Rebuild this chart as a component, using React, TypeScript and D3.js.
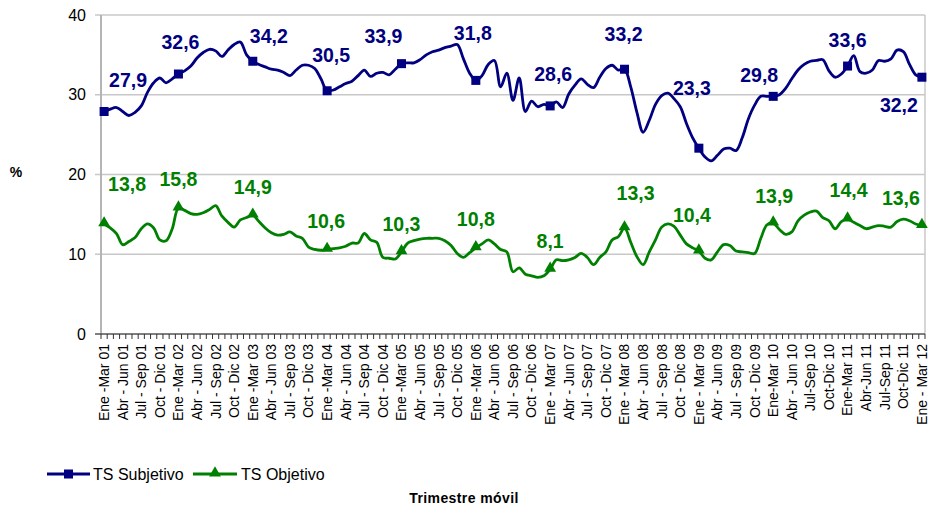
import React from "react";
import * as d3 from "d3";

const quarterLabels = [
  "Ene -Mar 01", "Abr - Jun 01", "Jul - Sep 01", "Oct - Dic 01",
  "Ene -Mar 02", "Abr - Jun 02", "Jul - Sep 02", "Oct - Dic 02",
  "Ene -Mar 03", "Abr - Jun 03", "Jul - Sep 03", "Oct - Dic 03",
  "Ene -Mar 04", "Abr - Jun 04", "Jul - Sep 04", "Oct - Dic 04",
  "Ene -Mar 05", "Abr - Jun 05", "Jul - Sep 05", "Oct - Dic 05",
  "Ene -Mar 06", "Abr - Jun 06", "Jul - Sep 06", "Oct - Dic 06",
  "Ene - Mar 07", "Abr - Jun 07", "Jul - Sep 07", "Oct - Dic 07",
  "Ene - Mar 08", "Abr - Jun 08", "Jul - Sep 08", "Oct - Dic 08",
  "Ene - Mar 09", "Abr - Jun 09", "Jul - Sep 09", "Oct - Dic 09",
  "Ene-Mar 10", "Abr - Jun 10", "Jul-Sep 10", "Oct-Dic 10",
  "Ene-Mar 11", "Abr-Jun 11", "Jul-Sep 11", "Oct-Dic 11",
  "Ene - Mar 12",
];

// Monthly rolling trimesters (Ene-Mar 01 ... Ene-Mar 12), 133 values
const subjetivo = [
  27.9, 28.2, 28.4, 27.9, 27.4, 27.8, 28.6, 30.3, 31.5, 32.1, 31.5, 32.0,
  32.6, 33.0, 33.6, 34.6, 35.3, 35.7, 35.5, 34.8, 35.6, 36.3, 36.6, 35.0,
  34.2, 33.8, 33.5, 33.2, 33.1, 32.8, 32.4, 33.1, 33.7, 33.7, 33.3, 32.0,
  30.5, 30.6, 31.0, 31.4, 31.7, 32.4, 33.1, 32.3, 32.7, 32.8, 32.5, 33.2,
  33.9, 34.0, 34.0, 34.4, 35.0, 35.4, 35.6, 35.9, 36.1, 36.3, 34.5, 32.7,
  31.8, 32.4, 33.8, 34.3, 31.0, 32.7, 29.3, 32.1, 27.9, 29.2, 28.5, 28.8,
  28.6, 29.1, 28.4, 30.1, 31.2, 32.0, 31.3, 30.9, 32.2, 33.3, 33.7, 33.1,
  33.2, 31.0, 27.8, 25.3, 26.8, 28.8, 29.9, 30.2, 29.5, 28.5, 26.4, 24.6,
  23.3, 22.2, 21.7, 22.4, 23.2, 23.3, 23.0, 24.6, 27.0, 28.7, 29.8, 29.8,
  29.8, 30.0, 30.8, 32.0, 33.1, 33.8, 34.2, 34.3, 34.4, 33.0, 32.2, 32.6,
  33.6, 34.9, 32.9, 32.7, 33.1, 34.3, 34.2, 34.5, 35.6, 35.4, 33.8, 32.5,
  32.2,
];

const objetivo = [
  13.8, 13.3, 12.6, 11.2, 11.6, 12.1, 13.2, 13.8, 13.3, 11.8, 11.7, 13.2,
  15.8, 15.5, 15.1, 15.0, 15.2, 15.6, 16.1, 14.8, 14.0, 13.4, 14.3, 14.6,
  14.9, 14.1, 13.3, 12.7, 12.4, 12.5, 12.8, 12.3, 12.0, 10.9, 10.6, 10.5,
  10.6, 10.7, 10.8, 11.0, 11.4, 11.4, 12.6, 11.8, 11.5, 9.6, 9.5, 9.4,
  10.3, 11.4, 11.7, 11.9, 12.0, 12.0, 12.0, 11.7, 11.1, 10.1, 9.6, 10.2,
  10.8, 11.3, 11.8, 11.3, 10.6, 10.3, 7.8, 8.3, 7.5, 7.3, 7.1, 7.3,
  8.1, 9.3, 9.2, 9.3, 9.6, 10.1, 9.6, 8.7, 9.6, 10.3, 11.8, 12.2,
  13.3, 11.5, 9.7, 8.7, 10.3, 11.8, 13.4, 13.8, 13.5, 12.4, 11.3, 10.8,
  10.4, 9.5, 9.3, 10.3, 11.2, 11.1, 10.4, 10.3, 10.2, 10.1, 12.0, 13.7,
  13.9, 13.1, 12.5, 12.8, 14.2, 14.9, 15.3, 15.4, 14.6, 14.2, 13.2, 14.1,
  14.4, 14.0, 13.6, 13.2, 13.4, 13.6, 13.5, 13.4, 14.1, 14.4, 14.2, 13.8,
  13.6,
];

const markerIdx = [0, 12, 24, 36, 48, 60, 72, 84, 96, 108, 120, 132];
const subjLabels = ["27,9", "32,6", "34,2", "30,5", "33,9", "31,8", "28,6", "33,2", "23,3", "29,8", "33,6", "32,2"];
const objLabels = ["13,8", "15,8", "14,9", "10,6", "10,3", "10,8", "8,1", "13,3", "10,4", "13,9", "14,4", "13,6"];
const yTicks = [0, 10, 20, 30, 40];

// label placement offsets (dx, dy) relative to the marker
const subjOffsets = [[24, -24], [2, -25], [16, -18], [4, -29], [-18, -21], [-3, -40], [3, -25], [-1, -28], [-7, -53], [-14, -14], [0, -19], [-23, 35]];
const objOffsets = [[23, -33], [0, -22], [0, -21], [-1, -21], [0, -21], [0, -22], [0, -21], [11, -28], [-7, -29], [1, -20], [1, -22], [-21, -21]];

const W = 928, H = 506;
const BLUE = "#000080";
const GREEN = "#008000";
const FONT = "'Liberation Sans', Arial, Helvetica, sans-serif";

export default function App() {
  const idx = d3.range(subjetivo.length);
  const x = d3.scaleBand<number>().domain(idx).range([101, 925]).paddingInner(0).paddingOuter(0);
  const cx = (i: number) => (x(i) as number) + x.bandwidth() / 2;
  const y = d3.scaleLinear().domain([0, 40]).range([334, 15]);

  const line = d3.line<number>().x((_, i) => cx(i)).y((d) => y(d)).curve(d3.curveCatmullRom.alpha(0.5));

  const boundaries = d3.range(subjetivo.length + 1).map((i) => 101 + i * x.bandwidth());
  const tri = d3.symbol().type(d3.symbolTriangle).size(60)();

  return (
    <svg width={W} height={H} style={{ position: "absolute", left: 0, top: 0, background: "#fff" }} fontFamily={FONT}>
      <rect x={0} y={0} width={W} height={H} fill="#fff" />
      {/* gridlines */}
      {yTicks.filter((t) => t > 0).map((t) => (
        <line key={t} x1={95} x2={925} y1={y(t)} y2={y(t)} stroke="#c8c8c8" strokeWidth={1.5} />
      ))}
      {/* plot borders */}
      <line x1={101} x2={101} y1={y(40)} y2={y(0)} stroke="#b4b4b4" strokeWidth={2} />
      <line x1={925} x2={925} y1={y(40)} y2={y(0)} stroke="#c8c8c8" strokeWidth={1.5} />
      {/* y labels */}
      {yTicks.map((t) => (
        <text key={t} x={86} y={y(t)} dy="0.35em" textAnchor="end" fontSize={16} fill="#000">{t}</text>
      ))}
      <text x={16} y={177} textAnchor="middle" fontSize={14} fontWeight="bold" fill="#000">%</text>
      {/* x axis */}
      <line x1={95} x2={925} y1={y(0)} y2={y(0)} stroke="#555" strokeWidth={1.5} />
      {boundaries.map((bx, i) => (
        <line key={i} x1={bx} x2={bx} y1={y(0)} y2={y(0) + 5} stroke="#333" strokeWidth={1} />
      ))}
      {quarterLabels.map((lab, k) => {
        const px = cx(k * 3);
        return (
          <text key={k} transform={`translate(${px},344) rotate(-90)`} dy="0.35em" textAnchor="end" fontSize={14} fill="#000">{lab}</text>
        );
      })}
      {/* lines */}
      <path d={line(subjetivo) || ""} fill="none" stroke={BLUE} strokeWidth={2.8} strokeLinejoin="round" />
      <path d={line(objetivo) || ""} fill="none" stroke={GREEN} strokeWidth={2.8} strokeLinejoin="round" />
      {/* markers */}
      {markerIdx.map((i) => (
        <rect key={"s" + i} x={cx(i) - 4.5} y={y(subjetivo[i]) - 4.5} width={9} height={9} fill={BLUE} />
      ))}
      {markerIdx.map((i) => (
        <path key={"o" + i} d={tri || ""} transform={`translate(${cx(i)},${y(objetivo[i]) - 1})`} fill={GREEN} />
      ))}
      {/* data labels */}
      {markerIdx.map((i, k) => (
        <text key={"sl" + i} x={cx(i) + subjOffsets[k][0]} y={y(subjetivo[i]) + subjOffsets[k][1]} textAnchor="middle" fontSize={19.5} fontWeight="bold" fill={BLUE}>{subjLabels[k]}</text>
      ))}
      {markerIdx.map((i, k) => (
        <text key={"ol" + i} x={cx(i) + objOffsets[k][0]} y={y(objetivo[i]) + objOffsets[k][1]} textAnchor="middle" fontSize={19.5} fontWeight="bold" fill={GREEN}>{objLabels[k]}</text>
      ))}
      {/* legend */}
      <line x1={47} x2={90} y1={474} y2={474} stroke={BLUE} strokeWidth={2.8} />
      <rect x={64} y={469.5} width={9} height={9} fill={BLUE} />
      <text x={93} y={474} dy="0.35em" fontSize={16} fill="#000">TS Subjetivo</text>
      <line x1={193} x2={237} y1={474} y2={474} stroke={GREEN} strokeWidth={2.8} />
      <path d={tri || ""} transform={`translate(215,473)`} fill={GREEN} />
      <text x={241} y={474} dy="0.35em" fontSize={16} fill="#000">TS Objetivo</text>
      <text x={464} y={503} textAnchor="middle" fontSize={14} fontWeight="bold" fill="#000" letterSpacing={0.4}>Trimestre móvil</text>
    </svg>
  );
}
